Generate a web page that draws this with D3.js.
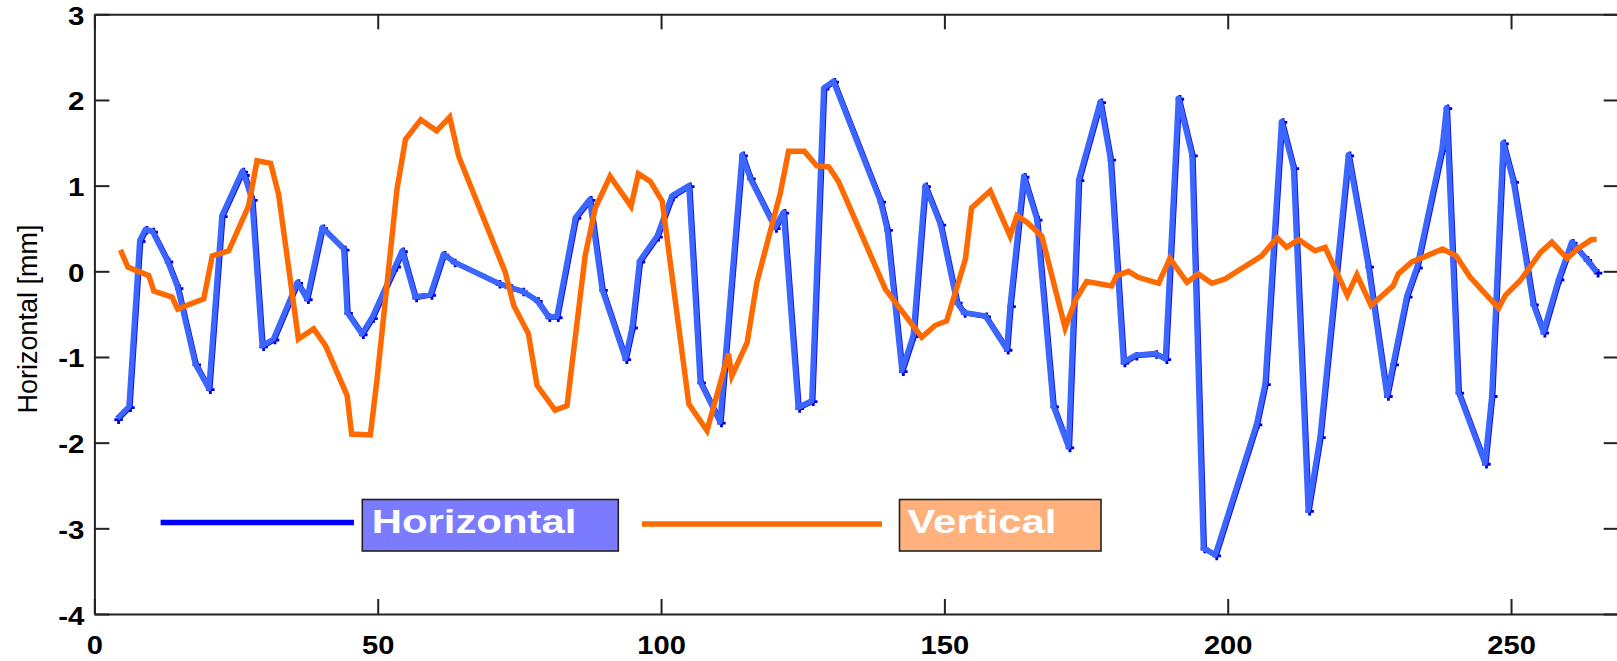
<!DOCTYPE html>
<html>
<head>
<meta charset="utf-8">
<script src="https://cdn.jsdelivr.net/npm/d3@7"></script>
<style>
  body { margin: 0; background: #fff; }
  svg { display: block; font-family: "Liberation Sans", Arial, sans-serif; }
  .tick-label { font-weight: bold; fill: #000; }
</style>
</head>
<body>
<svg width="1617" height="661"></svg>
<script>
const width = 1617;
const height = 661;

// Horizontal series (x, mm)
const hx = [4.0, 6.1, 8.0, 9.0, 10.2, 12.9, 14.7, 17.8, 20.2, 22.5,
  26.1, 26.4, 27.8, 29.6, 31.6, 35.8, 37.5, 40.2, 44.0, 44.6,
  47.2, 49.0, 53.1, 54.3, 56.6, 59.3, 61.6, 63.4, 71.3, 73.4,
  75.5, 78.1, 80.1, 81.6, 84.9, 87.4, 89.6, 93.7, 94.9, 96.2,
  99.3, 101.9, 104.9, 106.9, 110.4, 114.3, 115.7, 120.1, 121.6, 124.2,
  126.6, 128.7, 130.4, 138.7, 139.9, 142.5, 144.5, 146.6, 149.3, 152.2,
  153.4, 157.2, 161.0, 161.6, 164.0, 166.3, 169.2, 171.9, 173.7, 177.5,
  179.3, 181.6, 183.7, 187.2, 189.0, 191.3, 193.7, 195.7, 197.8, 205.1,
  206.6, 209.5, 211.6, 214.2, 216.3, 221.3, 224.8, 228.1, 229.2, 231.6,
  233.4, 237.8, 238.6, 240.7, 245.4, 246.6, 248.6, 250.4, 253.9, 255.7,
  258.4, 260.7, 263.3, 265.1];
const hy = [-1.72, -1.58, 0.36, 0.49, 0.47, 0.12, -0.19, -1.08, -1.37, 0.65,
  1.17, 1.13, 0.84, -0.87, -0.79, -0.13, -0.32, 0.51, 0.26, -0.48,
  -0.73, -0.54, 0.06, 0.24, -0.30, -0.27, 0.20, 0.11, -0.14, -0.19,
  -0.23, -0.34, -0.53, -0.53, 0.63, 0.84, -0.21, -1.02, -0.65, 0.12,
  0.41, 0.88, 1.00, -1.29, -1.76, 1.36, 1.09, 0.51, 0.69, -1.59,
  -1.51, 2.14, 2.22, 0.82, 0.49, -1.16, -0.75, 1.00, 0.55, -0.36,
  -0.48, -0.52, -0.91, -0.40, 1.11, 0.61, -1.57, -2.05, 1.07, 1.98,
  1.31, -1.06, -0.98, -0.96, -1.02, 2.02, 1.36, -3.23, -3.31, -1.78,
  -1.31, 1.75, 1.21, -2.79, -1.93, 1.36, 0.06, -1.45, -1.08, -0.29,
  0.05, 1.42, 1.91, -1.41, -2.24, -1.45, 1.50, 1.05, -0.38, -0.71,
  -0.09, 0.34, 0.14, -0.01];

// Vertical series
const vx = [4.6, 5.9, 9.6, 10.5, 13.7, 14.7, 19.3, 20.8, 23.7, 27.2,
  28.7, 31.1, 32.5, 36.0, 38.7, 40.8, 44.6, 45.4, 48.7, 49.9,
  53.4, 54.9, 57.6, 60.4, 62.7, 64.3, 72.5, 74.0, 76.6, 78.1,
  81.3, 83.4, 86.6, 88.4, 91.0, 94.7, 96.0, 98.1, 100.2, 103.4,
  104.9, 108.1, 111.9, 112.5, 115.2, 116.9, 121.0, 122.5, 125.3, 127.5,
  129.6, 131.3, 139.6, 146.0, 148.4, 150.4, 153.7, 154.8, 158.1, 161.6,
  162.8, 164.6, 167.2, 171.3, 173.1, 175.1, 179.5, 180.4, 182.5, 184.2,
  187.8, 189.8, 192.8, 194.8, 197.2, 199.5, 206.0, 208.7, 210.4, 212.5,
  215.4, 217.2, 221.1, 222.8, 225.3, 229.2, 230.1, 232.5, 235.1, 237.9,
  240.3, 242.8, 247.8, 249.0, 251.6, 255.2, 257.2, 259.9, 261.7, 264.2,
  265.1];
const vy = [0.25, 0.05, -0.05, -0.23, -0.30, -0.44, -0.32, 0.18, 0.24, 0.76,
  1.29, 1.26, 0.90, -0.79, -0.67, -0.87, -1.45, -1.90, -1.91, -1.25,
  0.96, 1.54, 1.77, 1.64, 1.80, 1.34, -0.01, -0.40, -0.73, -1.33,
  -1.62, -1.57, 0.18, 0.74, 1.11, 0.76, 1.14, 1.05, 0.82, -0.79,
  -1.55, -1.86, -0.96, -1.22, -0.83, -0.13, 0.90, 1.40, 1.40, 1.23,
  1.22, 1.05, -0.21, -0.77, -0.63, -0.58, 0.14, 0.74, 0.94, 0.41,
  0.65, 0.57, 0.41, -0.66, -0.34, -0.12, -0.17, -0.05, 0.00, -0.07,
  -0.14, 0.15, -0.13, -0.03, -0.14, -0.09, 0.18, 0.39, 0.28, 0.37,
  0.24, 0.28, -0.28, -0.04, -0.40, -0.17, -0.03, 0.11, 0.18, 0.26,
  0.18, -0.07, -0.43, -0.28, -0.11, 0.22, 0.34, 0.15, 0.26, 0.37,
  0.37];

const xTicks = [0, 50, 100, 150, 200, 250];
const yTicks = [-4, -3, -2, -1, 0, 1, 2, 3];
const seriesNames = ['Horizontal', 'Vertical'];
const yAxisLabel = 'Horizontal [mm]';

const svg = d3.select('svg');

const plot = {left: 94.4, right: 1618.7, top: 14.3, bottom: 614};

const xScale = d3.scaleLinear().domain([0, 269]).range([plot.left, plot.right]);
const yScale = d3.scaleLinear().domain([-4, 3]).range([plot.bottom, plot.top]);

const blue = '#3b66ff';
const orange = '#ff6a00';
const plainFormat = d => String(d);

// axes
const axisStyle = g => {
    g.select('.domain').attr('stroke', '#222').attr('stroke-width', 2);
    g.selectAll('.tick line').attr('stroke', '#222').attr('stroke-width', 2);
};

svg.append('g')
    .attr('transform', `translate(0,${plot.top})`)
    .call(d3.axisTop(xScale).tickValues(xTicks).tickSizeInner(-15).tickSizeOuter(0).tickFormat(''))
    .call(axisStyle);

svg.append('g')
    .attr('transform', `translate(${plot.right},0)`)
    .call(d3.axisRight(yScale).tickValues(yTicks).tickSizeInner(-15).tickSizeOuter(0).tickFormat(''))
    .call(axisStyle);

const xAxisG = svg.append('g')
    .attr('transform', `translate(0,${plot.bottom})`)
    .call(d3.axisBottom(xScale).tickValues(xTicks).tickSizeInner(-15).tickSizeOuter(0).tickFormat(plainFormat))
    .call(axisStyle);
xAxisG.selectAll('.tick text')
    .attr('class', 'tick-label')
    .attr('y', 40).attr('dy', null)
    .attr('font-size', 26)
    .attr('transform', 'scale(1.12,1)');

const yAxisG = svg.append('g')
    .attr('transform', `translate(${plot.left},0)`)
    .call(d3.axisLeft(yScale).tickValues(yTicks).tickSizeInner(-15).tickSizeOuter(0).tickFormat(plainFormat))
    .call(axisStyle);
yAxisG.selectAll('.tick text')
    .attr('class', 'tick-label')
    .attr('x', 0).attr('dy', '0.4em')
    .attr('font-size', 25)
    .attr('transform', 'translate(-10,0) scale(1.18,1)');

svg.append('text')
    .text(yAxisLabel)
    .attr('transform', 'rotate(-90)')
    .attr('x', -319)
    .attr('y', 36.5)
    .attr('text-anchor', 'middle')
    .attr('font-size', 27)
    .attr('fill', '#000');

// series
const hData = hx.map((x, i) => ({x: x, y: hy[i]}));
const vData = vx.map((x, i) => ({x: x, y: vy[i]}));

const line = d3.line().x(d => xScale(d.x)).y(d => yScale(d.y));

// dark edge + markers under the horizontal trace
svg.append('path')
    .datum(hData)
    .attr('d', line)
    .attr('transform', 'translate(1.2,0.6)')
    .attr('fill', 'none')
    .attr('stroke', '#1010ee')
    .attr('stroke-width', 5)
    .attr('stroke-linejoin', 'round');

svg.append('g').selectAll('path')
    .data(hData)
    .enter()
    .append('path')
    .attr('d', d3.symbol(d3.symbolCross, 40))
    .attr('transform', d => `translate(${xScale(d.x) + 1.5},${yScale(d.y) + 1})`)
    .attr('fill', '#0000e6');

svg.append('path')
    .datum(hData)
    .attr('d', line)
    .attr('fill', 'none')
    .attr('stroke', blue)
    .attr('stroke-width', 5.5)
    .attr('stroke-linejoin', 'round');

svg.append('path')
    .datum(vData)
    .attr('d', line)
    .attr('fill', 'none')
    .attr('stroke', orange)
    .attr('stroke-width', 5.5)
    .attr('stroke-linejoin', 'miter');

// legend
const legend = [
    {name: seriesNames[0], line: '#0000ff', box: '#7b7bff', x1: 160.6, x2: 354, ly: 522.5, bx: 362.3, bw: 256, tx: 371.7},
    {name: seriesNames[1], line: orange, box: '#ffb07b', x1: 642, x2: 882, ly: 524, bx: 899.5, bw: 201.5, tx: 907.5}
];

const lg = svg.append('g').selectAll('g')
    .data(legend)
    .enter()
    .append('g');

lg.append('line')
    .attr('x1', d => d.x1).attr('x2', d => d.x2)
    .attr('y1', d => d.ly).attr('y2', d => d.ly)
    .attr('stroke', d => d.line)
    .attr('stroke-width', 5.5);

lg.append('rect')
    .attr('x', d => d.bx).attr('y', 499.5)
    .attr('width', d => d.bw).attr('height', 51.5)
    .attr('fill', d => d.box)
    .attr('stroke', '#222')
    .attr('stroke-width', 1.6);

lg.append('text')
    .text(d => d.name)
    .attr('transform', d => `translate(${d.tx},533.3) scale(1.25,1)`)
    .attr('font-size', 33.5)
    .attr('font-weight', 'bold')
    .attr('fill', '#fff');
</script>
</body>
</html>
